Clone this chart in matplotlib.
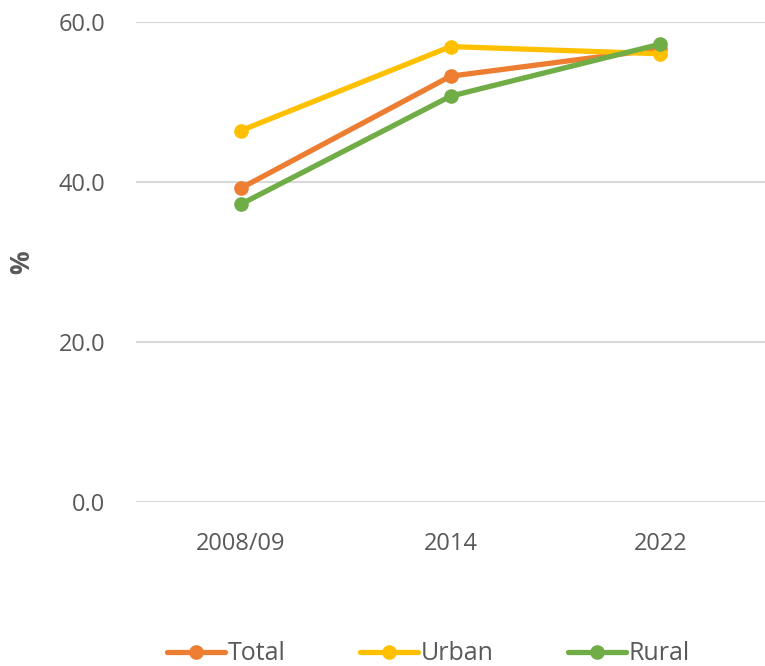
import matplotlib.pyplot as plt

categories = ["2008/09", "2014", "2022"]
total = [39.2, 53.2, 56.6]
urban = [46.4, 56.9, 56.0]
rural = [37.2, 50.7, 57.2]

series = [
    ("Total", total, "#ED7D31"),
    ("Urban", urban, "#FFC000"),
    ("Rural", rural, "#70AD47"),
]

plt.rcParams["font.family"] = ["Open Sans", "DejaVu Sans"]

fig = plt.figure(figsize=(7.65, 6.66), dpi=100)
ax = fig.add_axes([0.178, 0.2467, 0.822, 0.7206])

x = list(range(len(categories)))
for name, vals, color in series:
    ax.plot(x, vals, color=color, lw=3.8, marker="o", ms=9.5,
            solid_capstyle="round", label=name, zorder=3)

ax.set_xlim(-0.5, 2.5)
ax.set_ylim(0, 60)
ax.set_yticks([0, 20, 40, 60])
ax.set_yticklabels([f"{v:.1f}" for v in [0, 20, 40, 60]])
ax.set_xticks(x)
ax.set_xticklabels(categories)
ax.grid(axis="y", color="#d9d9d9", lw=1.5, zorder=0)
for s in ax.spines.values():
    s.set_visible(False)
ax.tick_params(axis="both", length=0, labelsize=17, colors="#595959")
ax.tick_params(axis="y", pad=22)
ax.tick_params(axis="x", pad=22)
fig.text(22 / 765, 1 - 262 / 666, "%", rotation=90, fontsize=19,
         fontweight="bold", color="#595959", ha="center", va="center")

fig.legend(loc="center", bbox_to_anchor=(0.56, 1 - 654 / 666), ncol=3,
           frameon=False, fontsize=18, handlelength=2.3, handletextpad=0.1,
           columnspacing=3.0, labelcolor="#595959")

fig.savefig("out.png", dpi=100)
